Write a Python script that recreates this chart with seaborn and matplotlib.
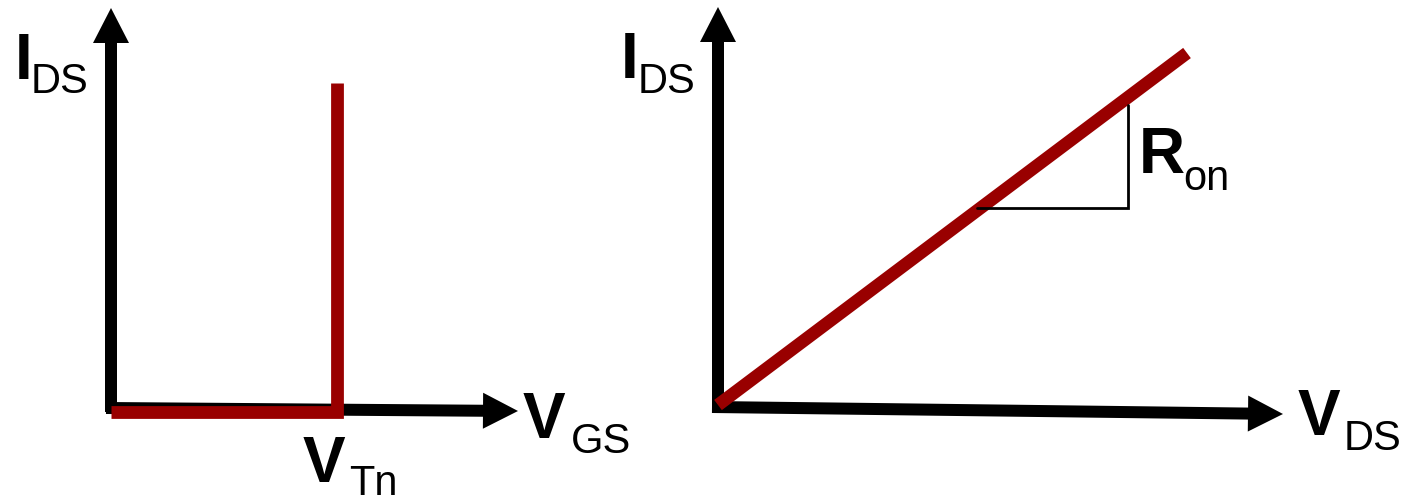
import numpy as np
import pandas as pd
import seaborn as sns
import matplotlib.pyplot as plt
from matplotlib.patches import FancyArrow

sns.set_theme(style="white")
plt.rcParams['font.family'] = ['Liberation Sans', 'DejaVu Sans']

# canvas units = pixels of the 1416x499 picture, y pointing down
W, H = 1416, 499

# axes arrows: (x0, y0, x1, y1)
axis_arrows = [
    (111, 412, 111, 8),      # left I_DS
    (106, 408, 518, 411),    # left V_GS
    (718, 413, 718, 7),      # right I_DS
    (712, 407, 1283, 414),   # right V_DS
]

# red characteristic curves
left_x = [111, 337, 337]
left_y = [411.5, 411.5, 83]
right_x = [718, 1187]
right_y = [405, 53]

# R_on slope triangle
tri_x = [977, 1128, 1128]
tri_y = [208, 208, 105]

# labels: (main, sub, x_main, y_main, x_sub, y_sub)
labels = [
    ("I", "DS", 15, 79, 31, 93),
    ("V", "GS", 523, 438, 571, 453),
    ("V", "Tn", 303, 482, 349, 495),
    ("I", "DS", 621, 78, 638, 93),
    ("R", "on", 1139, 173, 1183, 190),
    ("V", "DS", 1298, 435, 1344, 450),
]

red = "#990000"

fig = plt.figure(figsize=(W / 100, H / 100), dpi=100)
ax = fig.add_axes([0, 0, 1, 1])

for x0, y0, x1, y1 in axis_arrows:
    ax.add_patch(FancyArrow(x0, y0, x1 - x0, y1 - y0, width=12, head_width=36,
                            head_length=35, length_includes_head=True,
                            color="black", lw=0))

left = pd.DataFrame({"x": left_x, "y": left_y})
right = pd.DataFrame({"x": right_x, "y": right_y})
sns.lineplot(data=left, x="x", y="y", sort=False, estimator=None, color=red,
             lw=9.2, ax=ax, solid_joinstyle="miter", solid_capstyle="butt")
sns.lineplot(data=right, x="x", y="y", sort=False, estimator=None, color=red,
             lw=9.2, ax=ax, solid_capstyle="butt")
ax.plot(tri_x, tri_y, color="black", lw=2, solid_joinstyle="miter")

for main, sub, xm, ym, xs, ys in labels:
    ax.text(xm, ym, main, fontsize=46, fontweight="bold", color="black",
            ha="left", va="baseline")
    ax.text(xs, ys, sub, fontsize=30, color="black", ha="left", va="baseline")

ax.set_xlim(0, W)
ax.set_ylim(H, 0)
ax.axis("off")
fig.savefig("out.png", dpi=100, facecolor="white")
